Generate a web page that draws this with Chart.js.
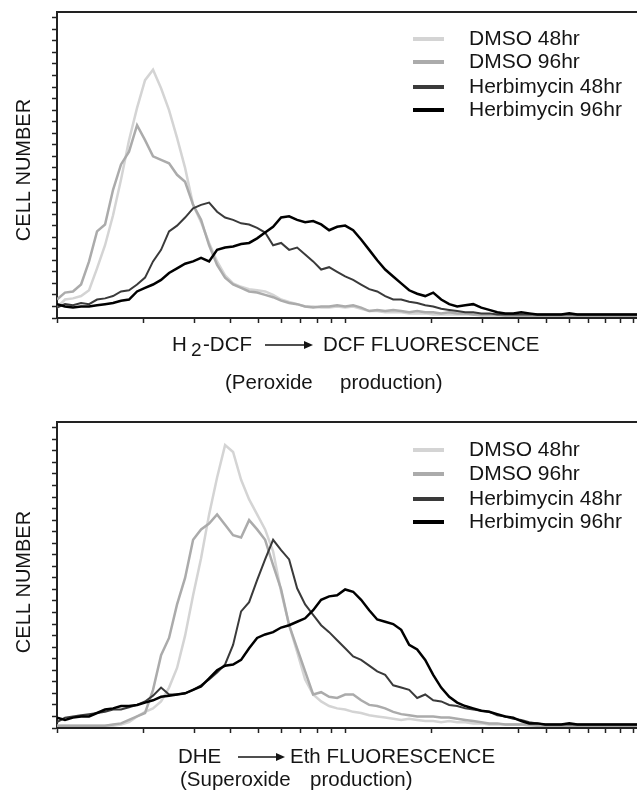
<!DOCTYPE html>
<html>
<head>
<meta charset="utf-8">
<title>DCF / DHE fluorescence histograms</title>
<script src="https://cdn.jsdelivr.net/npm/chart.js@4.4.1/dist/chart.umd.min.js"></script>
<style>
  body { margin: 0; background: #fff; }
  canvas { display: block; }
</style>
</head>
<body>
<canvas id="peroxideChart" width="637" height="400"></canvas>
<canvas id="superoxideChart" width="637" height="397"></canvas>
<script>
// fluorescence channels (log scale)
const fluor = [
  1, 1.066, 1.136, 1.212, 1.292, 1.377, 1.468, 1.565, 1.668, 1.778,
  1.896, 2.021, 2.154, 2.297, 2.448, 2.61, 2.783, 2.967, 3.162, 3.372,
  3.594, 3.831, 4.084, 4.354, 4.642, 4.948, 5.275, 5.623, 5.995, 6.391,
  6.813, 7.263, 7.743, 8.254, 8.799, 9.38, 10, 10.66, 11.36, 12.12,
  12.92, 13.77, 14.68, 15.65, 16.68, 17.78, 18.96, 20.21, 21.54, 22.97,
  24.48, 26.1, 27.83, 29.67, 31.62, 33.72, 35.94, 38.31, 40.84, 43.54,
  46.42, 49.48, 52.75, 56.23, 59.95, 63.91, 68.13, 72.63, 77.43, 82.54,
  87.99, 93.8, 100, 106.6
];
const xTicks = [1, 2, 3, 4, 5, 6, 7, 8, 9, 10, 20, 30, 40, 50, 60, 70, 80, 90, 100];
const yTicks = [0, 10, 20, 30, 40, 50, 60, 70, 80, 90, 100, 110, 120, 130, 140, 150, 160, 170, 180, 190, 200, 210, 220, 230, 240, 250, 260];
const seriesNames = ["DMSO 48hr", "DMSO 96hr", "Herbimycin 48hr", "Herbimycin 96hr"];

// H2-DCF -> DCF (peroxide)
const dcfDmso48 = [
  9, 16, 17, 19, 24, 43, 63, 89, 120, 154,
  182, 206, 215, 199, 180, 156, 130, 98, 83, 65,
  49, 37, 30, 27, 25, 24, 23, 20, 16, 14,
  12, 10, 10, 9, 9, 10, 9, 10, 8, 6,
  6, 5, 5, 5, 4, 4, 4, 3, 3, 3,
  3, 3, 3, 2, 2, 2, 2, 2, 2, 2,
  2, 2, 2, 2, 2, 2, 2, 2, 2, 2,
  2, 2, 2, 2
];
const dcfDmso96 = [
  16, 22, 23, 29, 49, 75, 81, 111, 133, 144,
  167, 154, 140, 137, 134, 124, 118, 98, 85, 63,
  46, 35, 29, 26, 23, 22, 20, 18, 15, 13,
  12, 10, 9, 10, 10, 11, 10, 11, 9, 6,
  7, 6, 7, 6, 5, 6, 5, 5, 4, 5,
  4, 4, 3, 3, 3, 3, 2, 2, 2, 2,
  2, 2, 2, 2, 2, 2, 2, 2, 2, 2,
  2, 2, 2, 2
];
const dcfHerb48 = [
  9, 12, 11, 13, 12, 16, 17, 19, 23, 24,
  29, 35, 49, 59, 75, 80, 87, 95, 98, 100,
  92, 87, 85, 82, 81, 78, 74, 63, 65, 59,
  61, 55, 49, 42, 44, 40, 36, 33, 29, 25,
  23, 19, 16, 16, 14, 13, 11, 10, 8, 7,
  6, 5, 5, 4, 4, 3, 3, 3, 3, 3,
  3, 3, 3, 3, 3, 3, 3, 3, 3, 3,
  3, 3, 3, 3
];
const dcfHerb96 = [
  12, 10, 9, 10, 10, 11, 12, 13, 15, 16,
  23, 26, 29, 33, 39, 43, 47, 49, 52, 49,
  59, 61, 62, 64, 65, 69, 74, 79, 87, 88,
  85, 83, 84, 81, 76, 79, 80, 76, 68, 59,
  50, 42, 36, 30, 24, 21, 19, 22, 16, 12,
  10, 11, 12, 9, 7, 5, 4, 4, 5, 4,
  3, 3, 3, 3, 4, 3, 3, 3, 3, 3,
  3, 3, 3, 3
];

// DHE -> Eth (superoxide)
const dheDmso48 = [
  2, 2, 2, 2, 2, 2, 2, 2, 3, 5,
  10, 14, 17, 23, 35, 52, 80, 115, 147, 185,
  217, 245, 239, 215, 198, 185, 172, 153, 118, 89,
  66, 42, 29, 23, 19, 17, 16, 14, 13, 11,
  10, 9, 8, 7, 8, 7, 6, 6, 5, 6,
  5, 5, 4, 4, 3, 3, 3, 3, 3, 2,
  2, 2, 2, 2, 2, 2, 2, 2, 2, 2,
  2, 2, 2, 2
];
const dheDmso96 = [
  2, 2, 2, 2, 2, 2, 2, 3, 4, 7,
  10, 13, 33, 63, 78, 107, 130, 163, 172, 177,
  185, 176, 167, 165, 180, 172, 163, 141, 120, 89,
  69, 49, 29, 31, 27, 26, 29, 29, 24, 20,
  19, 17, 14, 12, 11, 10, 10, 10, 9, 9,
  8, 7, 6, 5, 4, 4, 3, 3, 3, 3,
  2, 2, 2, 2, 2, 2, 2, 2, 2, 2,
  2, 2, 2, 2
];
const dheHerb48 = [
  5, 9, 10, 11, 12, 13, 14, 16, 16, 18,
  20, 23, 28, 35, 29, 29, 30, 33, 37, 42,
  48, 55, 72, 101, 109, 128, 146, 163, 154, 146,
  121, 107, 98, 89, 83, 76, 69, 62, 59, 54,
  49, 46, 37, 35, 33, 26, 29, 24, 23, 20,
  19, 17, 16, 15, 14, 11, 10, 8, 7, 5,
  4, 3, 3, 3, 3, 3, 3, 3, 3, 3,
  3, 3, 3, 3
];
const dheHerb96 = [
  9, 7, 9, 10, 10, 13, 16, 17, 19, 19,
  20, 22, 24, 27, 28, 29, 30, 33, 36, 43,
  50, 54, 55, 59, 69, 78, 81, 83, 87, 89,
  92, 95, 102, 111, 114, 115, 120, 118, 111, 102,
  94, 92, 90, 85, 72, 68, 59, 46, 35, 27,
  22, 19, 17, 15, 14, 12, 10, 9, 6, 4,
  4, 3, 3, 3, 4, 3, 3, 3, 3, 3,
  3, 3, 3, 3
];

const lineColors = ["#d4d4d4", "#ababab", "#3a3a3a", "#000"];
const lineWidths = [2.5, 2.5, 2, 2.5];
const axisColor = "#222";
const textFont = "'Liberation Sans', Arial, sans-serif";

// captions, legend and y title drawn on the canvas
const panelText = {
  id: "panelText",
  afterDraw(chart, args, opts) {
    const ctx = chart.ctx;
    ctx.save();
    ctx.fillStyle = "#151515";
    ctx.textBaseline = "middle";

    // CELL NUMBER
    ctx.save();
    ctx.font = "20px " + textFont;
    ctx.translate(opts.yTitle[0], opts.yTitle[1]);
    ctx.rotate(-Math.PI / 2);
    ctx.textAlign = "center";
    ctx.fillText("CELL NUMBER", 0, 0);
    ctx.restore();

    // x captions
    ctx.textAlign = "left";
    opts.lines.forEach((line) => {
      line.parts.forEach((p) => {
        ctx.font = (p.small ? "19px " : "20.5px ") + textFont;
        ctx.fillText(p.text, p.x, line.y + (p.dy || 0));
      });
      if (line.arrow) {
        const [x1, x2] = line.arrow;
        const y = line.y;
        ctx.strokeStyle = "#151515";
        ctx.lineWidth = 1.3;
        ctx.beginPath();
        ctx.moveTo(x1, y);
        ctx.lineTo(x2 - 6, y);
        ctx.stroke();
        ctx.beginPath();
        ctx.moveTo(x2, y);
        ctx.lineTo(x2 - 9, y - 4);
        ctx.lineTo(x2 - 9, y + 4);
        ctx.closePath();
        ctx.fill();
      }
    });

    // legend
    ctx.font = "21px " + textFont;
    chart.data.datasets.forEach((ds, i) => {
      const y = opts.legendRows[i];
      ctx.strokeStyle = ds.borderColor;
      ctx.lineWidth = 4;
      ctx.beginPath();
      ctx.moveTo(413, y);
      ctx.lineTo(444, y);
      ctx.stroke();
      ctx.fillText(ds.label, 469, y);
    });
    ctx.restore();
  },
};

function makeChart(canvasId, series, padTop, padBottom, textOpts) {
  const ctx = document.getElementById(canvasId).getContext("2d");
  return new Chart(ctx, {
    type: "line",
    data: {
      labels: fluor,
      datasets: series.map((values, i) => ({
        label: seriesNames[i],
        data: values,
        borderColor: lineColors[i],
        borderWidth: lineWidths[i],
        borderJoinStyle: "miter",
        tension: 0,
        pointRadius: 0,
        fill: false,
        order: 3 - i,
      })),
    },
    options: {
      responsive: false,
      animation: false,
      devicePixelRatio: 1,
      layout: { padding: { top: padTop, right: 0, bottom: padBottom, left: 0 } },
      plugins: {
        legend: { display: false },
        tooltip: { enabled: false },
        panelText: textOpts,
      },
      scales: {
        x: {
          type: "logarithmic",
          min: 1,
          max: 103,
          afterBuildTicks: (axis) => {
            axis.ticks = xTicks.map((v) => ({ value: v }));
          },
          ticks: { display: false, autoSkip: false },
          grid: { drawOnChartArea: false, drawTicks: true, tickLength: 5, tickColor: axisColor, tickWidth: 1.5 },
          border: { color: axisColor, width: 2 },
        },
        top: {
          type: "linear",
          position: "top",
          min: 0,
          max: 1,
          ticks: { display: false },
          grid: { display: false, drawTicks: false },
          border: { color: axisColor, width: 2 },
        },
        y: {
          type: "linear",
          min: 0,
          max: 265,
          afterBuildTicks: (axis) => {
            axis.ticks = yTicks.map((v) => ({ value: v }));
          },
          afterFit: (axis) => {
            axis.width = 57;
          },
          ticks: { display: false },
          grid: { drawOnChartArea: false, drawTicks: true, tickLength: 5, tickColor: axisColor, tickWidth: 1.5 },
          border: { color: axisColor, width: 2 },
        },
      },
    },
    plugins: [panelText],
  });
}

makeChart("peroxideChart", [dcfDmso48, dcfDmso96, dcfHerb48, dcfHerb96], 12, 77, {
  yTitle: [24, 170],
  legendRows: [39, 62, 87, 110],
  lines: [
    {
      y: 345,
      arrow: [265, 313],
      parts: [
        { text: "H", x: 172 },
        { text: "2", x: 191, dy: 6, small: true },
        { text: "-DCF", x: 203 },
        { text: "DCF FLUORESCENCE", x: 323 },
      ],
    },
    {
      y: 383,
      parts: [
        { text: "(Peroxide", x: 225 },
        { text: "production)", x: 340 },
      ],
    },
  ],
});

makeChart("superoxideChart", [dheDmso48, dheDmso96, dheHerb48, dheHerb96], 22, 64, {
  yTitle: [24, 182],
  legendRows: [50, 74, 99, 122],
  lines: [
    {
      y: 357,
      arrow: [238, 285],
      parts: [
        { text: "DHE", x: 178 },
        { text: "Eth FLUORESCENCE", x: 290 },
      ],
    },
    {
      y: 380,
      parts: [
        { text: "(Superoxide", x: 180 },
        { text: "production)", x: 310 },
      ],
    },
  ],
});
</script>
</body>
</html>
